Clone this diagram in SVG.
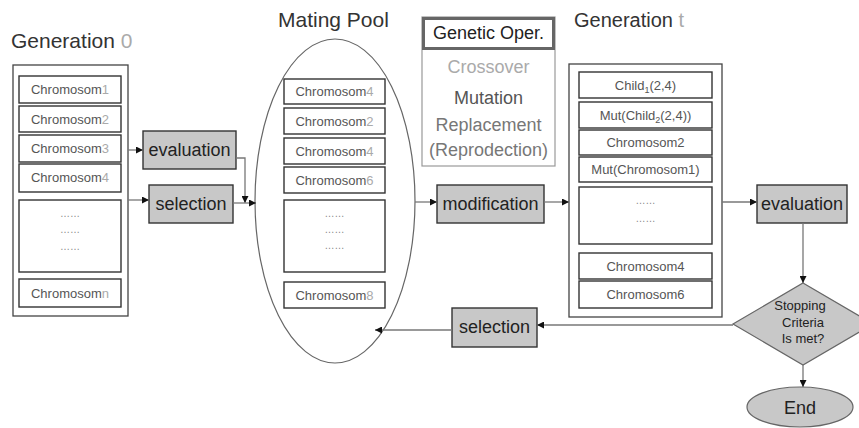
<svg xmlns="http://www.w3.org/2000/svg" width="859" height="428" viewBox="0 0 859 428">
<style>
text{font-family:"Liberation Sans",Arial,sans-serif;}
.title{font-size:21px;fill:#333;}
.lt{fill:#aaa;}
.frame{fill:#fff;stroke:#444;stroke-width:1.3;}
.cell{fill:#fff;stroke:#333;stroke-width:1.4;}
.ct{font-size:13px;fill:#555;text-anchor:middle;}
.dots{font-size:10px;fill:#888;text-anchor:middle;}
.proc{fill:#c8c8c8;stroke:#333;stroke-width:1.4;}
.pt{font-size:18px;fill:#222;text-anchor:middle;}
.op{font-size:18px;text-anchor:middle;}
.conn{fill:none;stroke:#777;stroke-width:1.3;}
</style>
<defs>
<marker id="ah" viewBox="0 0 10 10" refX="10" refY="5" markerWidth="7" markerHeight="7" orient="auto" markerUnits="userSpaceOnUse">
<path d="M0,0 L10,5 L0,10 z" fill="#111"/>
</marker>
</defs>

<g id="gen0">
<text class="title" x="11" y="48">Generation <tspan class="lt">0</tspan></text>
<rect class="frame" x="13" y="65" width="115" height="251"/>
<rect class="cell" x="19" y="76" width="102" height="27"/>
<text class="ct" x="70" y="94">Chromosom<tspan class="lt">1</tspan></text>
<rect class="cell" x="19" y="106" width="102" height="26"/>
<text class="ct" x="70" y="124">Chromosom<tspan class="lt">2</tspan></text>
<rect class="cell" x="19" y="135" width="102" height="27"/>
<text class="ct" x="70" y="153">Chromosom<tspan class="lt">3</tspan></text>
<rect class="cell" x="19" y="164" width="102" height="28"/>
<text class="ct" x="70" y="182">Chromosom<tspan class="lt">4</tspan></text>
<rect class="cell" x="19" y="200" width="102" height="72"/>
<text class="dots" x="70" y="217">……</text>
<text class="dots" x="70" y="233">……</text>
<text class="dots" x="70" y="250">……</text>
<rect class="cell" x="19" y="279" width="102" height="28"/>
<text class="ct" x="70" y="298">Chromosom<tspan class="lt">n</tspan></text>
</g>

<g id="eval1">
<rect class="proc" x="143" y="131" width="93" height="38"/>
<text class="pt" x="189.5" y="156">evaluation</text>
</g>
<g id="sel1">
<rect class="proc" x="149" y="185" width="84" height="38"/>
<text class="pt" x="191" y="210">selection</text>
</g>

<g id="matingpool">
<text class="title" x="278" y="27">Mating Pool</text>
<ellipse cx="335" cy="201" rx="80" ry="162" fill="#fff" stroke="#666" stroke-width="1.2"/>
<rect class="cell" x="284" y="79" width="101" height="25"/>
<text class="ct" x="334.5" y="96">Chromosom<tspan class="lt">4</tspan></text>
<rect class="cell" x="284" y="108" width="101" height="26"/>
<text class="ct" x="334.5" y="126">Chromosom<tspan class="lt">2</tspan></text>
<rect class="cell" x="284" y="138" width="101" height="26"/>
<text class="ct" x="334.5" y="156">Chromosom<tspan class="lt">4</tspan></text>
<rect class="cell" x="284" y="167" width="101" height="26"/>
<text class="ct" x="334.5" y="185">Chromosom<tspan class="lt">6</tspan></text>
<rect class="cell" x="284" y="200" width="101" height="72"/>
<text class="dots" x="334.5" y="217">……</text>
<text class="dots" x="334.5" y="233">……</text>
<text class="dots" x="334.5" y="249">……</text>
<rect class="cell" x="284" y="282" width="101" height="26"/>
<text class="ct" x="334.5" y="300">Chromosom<tspan class="lt">8</tspan></text>
</g>

<g id="geneticoper">
<rect x="422" y="17" width="133" height="149" fill="#fff" stroke="#999" stroke-width="1.2"/>
<rect x="423.5" y="18.5" width="130" height="30" fill="#fff" stroke="#666" stroke-width="3"/>
<text class="op" x="488.5" y="39" fill="#222">Genetic Oper.</text>
<text class="op" x="488.5" y="73" fill="#aaa">Crossover</text>
<text class="op" x="488.5" y="104" fill="#555">Mutation</text>
<text class="op" x="488.5" y="131" fill="#777">Replacement</text>
<text class="op" x="488.5" y="156" fill="#777">(Reprodection)</text>
</g>

<g id="modification">
<rect class="proc" x="437" y="185" width="107" height="38"/>
<text class="pt" x="490.5" y="210">modification</text>
</g>

<g id="gent">
<text class="title" x="574" y="27" font-size="20" style="font-size:20px">Generation <tspan class="lt">t</tspan></text>
<rect class="frame" x="569" y="64" width="153" height="253"/>
<rect class="cell" x="579" y="72" width="133" height="26"/>
<text class="ct" x="645.5" y="90">Child<tspan font-size="9" dy="3">1</tspan><tspan dy="-3">(2,4)</tspan></text>
<rect class="cell" x="579" y="102" width="133" height="26"/>
<text class="ct" x="645.5" y="120">Mut(Child<tspan font-size="9" dy="3">2</tspan><tspan dy="-3">(2,4))</tspan></text>
<rect class="cell" x="579" y="130" width="133" height="25"/>
<text class="ct" x="645.5" y="147">Chromosom2</text>
<rect class="cell" x="579" y="157" width="133" height="25"/>
<text class="ct" x="645.5" y="174">Mut(Chromosom1)</text>
<rect class="cell" x="579" y="187" width="133" height="57"/>
<text class="dots" x="645.5" y="204">……</text>
<text class="dots" x="645.5" y="222">……</text>
<rect class="cell" x="579" y="253" width="133" height="26"/>
<text class="ct" x="645.5" y="271">Chromosom4</text>
<rect class="cell" x="579" y="281" width="133" height="27"/>
<text class="ct" x="645.5" y="299">Chromosom6</text>
</g>

<g id="eval2">
<rect class="proc" x="757" y="185" width="90" height="38"/>
<text class="pt" x="802" y="210">evaluation</text>
</g>

<g id="stopping">
<polygon points="803,283 873,324 803,365 733,324" fill="#c8c8c8" stroke="#666" stroke-width="1.2"/>
<text x="800" y="310" font-size="13" fill="#222" text-anchor="middle">Stopping</text>
<text x="803" y="327" font-size="13" fill="#222" text-anchor="middle">Criteria</text>
<text x="803" y="343" font-size="13" fill="#222" text-anchor="middle">Is met?</text>
</g>

<g id="end">
<ellipse cx="800" cy="407" rx="53" ry="20" fill="#c8c8c8" stroke="#666" stroke-width="1.2"/>
<text class="pt" x="800" y="414">End</text>
</g>

<g id="sel2">
<rect class="proc" x="452" y="308" width="85" height="39"/>
<text class="pt" x="494.5" y="333">selection</text>
</g>

<g id="connectors">
<path class="conn" d="M128,150 H143" marker-end="url(#ah)"/>
<path class="conn" d="M128,200 H149" marker-end="url(#ah)"/>
<path class="conn" d="M236,158 H245 V203" marker-end="url(#ah)"/>
<path class="conn" d="M233,203 H256" marker-end="url(#ah)"/>
<path class="conn" d="M415,202 H437" marker-end="url(#ah)"/>
<path class="conn" d="M544,202 H569" marker-end="url(#ah)"/>
<path class="conn" d="M722,202 H757" marker-end="url(#ah)"/>
<path class="conn" d="M803,223 V283" marker-end="url(#ah)"/>
<path class="conn" d="M803,365 V387" marker-end="url(#ah)"/>
<path class="conn" d="M733,325 H537" marker-end="url(#ah)"/>
<path class="conn" d="M452,330 H375" marker-end="url(#ah)"/>
</g>
</svg>
